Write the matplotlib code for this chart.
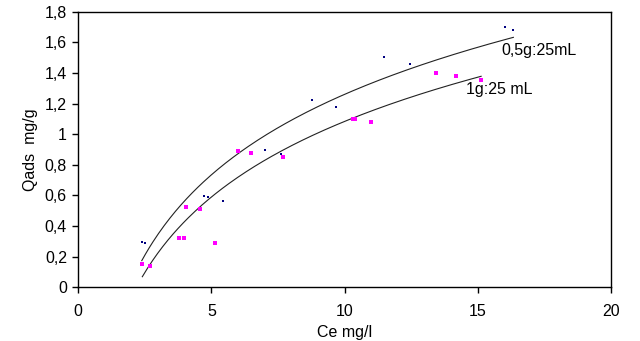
import numpy as np
import matplotlib
matplotlib.use("Agg")
import matplotlib.pyplot as plt
from matplotlib.ticker import FuncFormatter, MultipleLocator

plt.rcParams['font.family'] = ['Liberation Sans', 'DejaVu Sans']

# 0.5 g : 25 mL series
ce_05 = [2.39, 2.50, 4.73, 4.87, 5.43, 7.00, 7.62, 8.77, 9.67, 11.48, 12.46, 16.02, 16.33]
q_05 = [0.296, 0.292, 0.598, 0.590, 0.564, 0.899, 0.871, 1.225, 1.180, 1.506, 1.458, 1.698, 1.680]

# 1 g : 25 mL series
ce_1 = [2.41, 2.71, 3.79, 3.98, 4.05, 4.58, 5.14, 6.00, 6.47, 7.68, 10.33, 10.40, 10.98, 13.42, 14.18, 15.12]
q_1 = [0.154, 0.141, 0.324, 0.324, 0.527, 0.514, 0.291, 0.892, 0.879, 0.853, 1.097, 1.100, 1.080, 1.402, 1.380, 1.354]

# Logarithmic trend lines y = a*ln(x) + b
trend_05 = [0.759, -0.487]
trend_1 = [0.713, -0.558]

FS = 11.5

fig = plt.figure(figsize=(6.4, 3.41), dpi=100)
ax = fig.add_axes([0.122, 0.1575, 0.833, 0.808])

ax.scatter(ce_05, q_05, marker='s', s=3.5, color='#000080', linewidths=0, zorder=3)
ax.scatter(ce_1, q_1, marker='s', s=5.5, color='#ff00ff', linewidths=0, zorder=3)

for xs, (a, b) in ((ce_05, trend_05), (ce_1, trend_1)):
    xx = np.linspace(min(xs), max(xs), 200)
    ax.plot(xx, a * np.log(xx) + b, color='#222222', lw=0.8, zorder=2)

ax.text(15.87, 1.55, '0,5g:25mL', fontsize=FS, va='center', ha='left')
ax.text(14.56, 1.29, '1g:25 mL', fontsize=FS, va='center', ha='left')

ax.set_xlim(0, 20)
ax.set_ylim(0, 1.8)
ax.xaxis.set_major_locator(MultipleLocator(5))
ax.yaxis.set_major_locator(MultipleLocator(0.2))
ax.yaxis.set_major_formatter(FuncFormatter(lambda v, p: ('%g' % round(v, 1)).replace('.', ',')))
ax.tick_params(direction='out', length=4, width=1, labelsize=FS, color='black', pad=4)
ax.tick_params(axis='x', pad=8)
for s in ax.spines.values():
    s.set_linewidth(1.0)
    s.set_color('black')

ax.set_xlabel('Ce mg/l', fontsize=FS, labelpad=4)
ax.set_ylabel('Qads  mg/g', fontsize=FS, labelpad=5)

fig.savefig('out.png', dpi=100, facecolor='white')
